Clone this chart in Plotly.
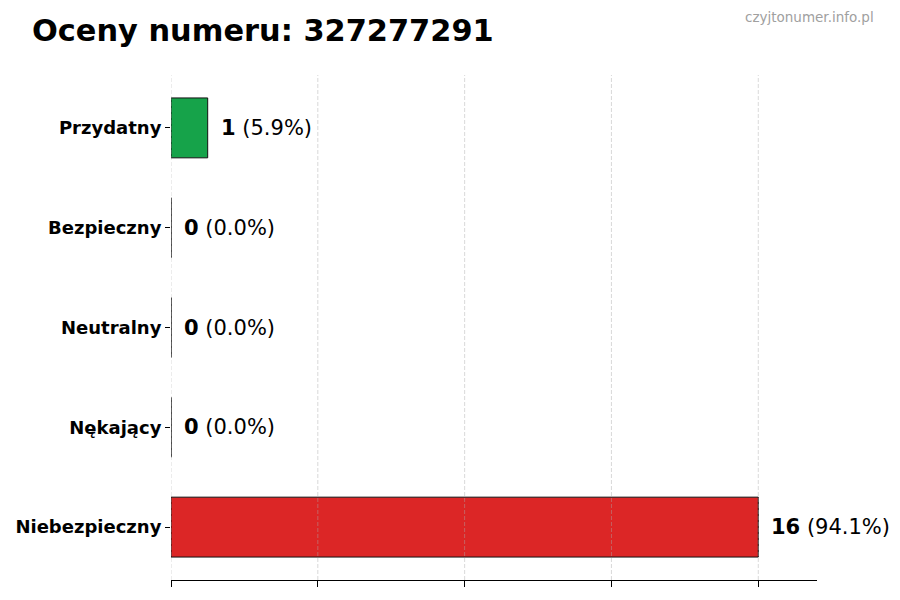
import plotly.graph_objects as go

categories = ["Przydatny", "Bezpieczny", "Neutralny", "Nękający", "Niebezpieczny"]
counts = [1, 0, 0, 0, 16]
colors = ["#16a34a", "#86efac", "#9ca3af", "#f97316", "#dc2626"]
x_ticks = [0, 4, 8, 12, 16]
title_text = "Oceny numeru: 327277291"
watermark = "czyjtonumer.info.pl"

total = sum(counts)
FONT = "DejaVu Sans"
W, H = 900, 600
L, R, T, B = 171, 83, 75, 20
PW, PH = W - L - R, H - T - B

fig = go.Figure()
fig.add_trace(go.Bar(
    x=counts, y=categories, orientation="h",
    marker=dict(color=colors, line=dict(color="#111111", width=1)),
    width=0.6, hoverinfo="skip",
))

for c, v in zip(categories, counts):
    pct = 100 * v / total if total else 0
    fig.add_annotation(
        x=v, y=c, xref="x", yref="y",
        text=f"<b>{v}</b> ({pct:.1f}%)",
        showarrow=False, xanchor="left", yanchor="middle",
        xshift=11, font=dict(family=FONT, size=21, color="#000"),
    )

for t in x_ticks:
    fig.add_shape(type="line", xref="x", yref="paper", x0=t, x1=t, y0=0, y1=1,
                  line=dict(color="rgba(170,170,170,0.45)", width=1, dash="4px,2px"),
                  layer="above")

fig.add_annotation(x=(876 - L) / PW, y=(H - B - 17) / PH, xref="paper", yref="paper",
                   text=watermark, showarrow=False,
                   xanchor="right", yanchor="middle",
                   font=dict(family=FONT, size=13.5, color="#a0a0a0"))

fig.update_layout(
    width=W, height=H,
    margin=dict(l=L, r=R, t=T, b=B, pad=0),
    plot_bgcolor="white", paper_bgcolor="white",
    showlegend=False,
    font=dict(family=FONT, color="#000"),
    title=dict(text=f"<b>{title_text}</b>", x=32 / W, xanchor="left",
               y=1 - 30 / H, yanchor="middle", xref="container", yref="container",
               font=dict(family=FONT, size=30.4, color="#000")),
)
fig.update_xaxes(
    range=[0, 17.6], tickvals=x_ticks, showticklabels=False,
    showgrid=False, zeroline=False,
    showline=True, linecolor="#000", linewidth=1.2,
    ticks="outside", ticklen=6, tickcolor="#000", tickwidth=1,
)
fig.update_yaxes(
    categoryorder="array", categoryarray=categories[::-1],
    range=[-0.53, 4.53],
    showgrid=False, zeroline=False, showline=False,
    ticks="outside", ticklen=5, tickcolor="#000", tickwidth=1,
    tickfont=dict(family=FONT, size=18, color="#000", weight="bold"),
)

fig.write_html("out.html", config={"displayModeBar": False},
               post_script="document.body.style.margin='0';")
